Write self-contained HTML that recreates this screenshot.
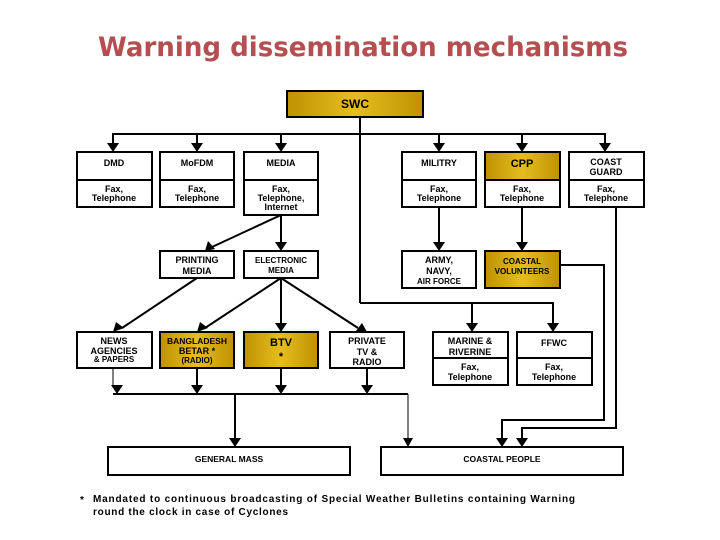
<!DOCTYPE html>
<html><head><meta charset="utf-8"><style>
html,body{margin:0;padding:0;background:#fff;width:720px;height:540px;overflow:hidden}
svg text{font-family:"Liberation Sans",sans-serif;font-weight:bold;fill:#000}
</style></head><body>
<svg width="720" height="540" viewBox="0 0 720 540" xmlns="http://www.w3.org/2000/svg">
<defs>
<linearGradient id="g" x1="0" y1="0" x2="1" y2="0">
<stop offset="0" stop-color="#be9200"/><stop offset="0.5" stop-color="#e6bd20"/><stop offset="1" stop-color="#be9200"/>
</linearGradient>
</defs>
<text x="98" y="56" textLength="530" lengthAdjust="spacingAndGlyphs" style="font-family:'DejaVu Sans',sans-serif;font-size:27px;font-weight:bold;fill:#b44e50">Warning dissemination mechanisms</text>

<g stroke="#000" fill="none" stroke-width="2">
<line x1="360" y1="117" x2="360" y2="303"/>
<polyline points="113,143 113,134 605,134 605,143"/>
<line x1="197" y1="134" x2="197" y2="143"/>
<line x1="281" y1="134" x2="281" y2="143"/>
<line x1="439" y1="134" x2="439" y2="143"/>
<line x1="522" y1="134" x2="522" y2="143"/>
<line x1="281" y1="215" x2="281" y2="242"/>
<line x1="281" y1="215" x2="212" y2="247"/>
<line x1="439" y1="207" x2="439" y2="242"/>
<line x1="522" y1="207" x2="522" y2="242"/>
<line x1="197" y1="278" x2="122" y2="328"/>
<line x1="281" y1="278" x2="205" y2="328"/>
<line x1="281" y1="278" x2="281" y2="323"/>
<line x1="281" y1="278" x2="358" y2="328"/>
<polyline points="360,303 553,303 553,323"/>
<line x1="472" y1="303" x2="472" y2="323"/>
<line x1="113" y1="368" x2="113" y2="385" stroke-width="1"/>
<line x1="197" y1="368" x2="197" y2="385"/>
<line x1="281" y1="368" x2="281" y2="385"/>
<line x1="367" y1="368" x2="367" y2="385"/>
<line x1="113" y1="394" x2="408" y2="394"/>
<line x1="235" y1="394" x2="235" y2="438"/>
<line x1="408" y1="394" x2="408" y2="438" stroke-width="1"/>
<polyline points="560,265 604,265 604,420 502,420 502,438"/>
<polyline points="616,207 616,428 522,428 522,438"/>
</g>
<g fill="#000">
<path d="M107,143 h12 l-6,9 z"/><path d="M191,143 h12 l-6,9 z"/><path d="M275,143 h12 l-6,9 z"/>
<path d="M433,143 h12 l-6,9 z"/><path d="M516,143 h12 l-6,9 z"/><path d="M599,143 h12 l-6,9 z"/>
<path d="M275,242 h12 l-6,9 z"/><path d="M433,242 h12 l-6,9 z"/><path d="M516,242 h12 l-6,9 z"/>
<path d="M205,251 l3,-10 l7,8 z"/>
<path d="M113,332 l3,-10 l8,6 z"/><path d="M197,332 l3,-10 l8,6 z"/><path d="M275,323 h12 l-6,9 z"/><path d="M367,332 l-11,-1 l6,-8 z"/>
<path d="M466,323 h12 l-6,9 z"/><path d="M547,323 h12 l-6,9 z"/>
<path d="M111,385 h12 l-6,9 z"/><path d="M191,385 h12 l-6,9 z"/><path d="M275,385 h12 l-6,9 z"/><path d="M361,385 h12 l-6,9 z"/>
<path d="M229,438 h12 l-6,9 z"/><path d="M403,438 h10 l-5,9 z"/><path d="M496,438 h12 l-6,9 z"/><path d="M516,438 h12 l-6,9 z"/>
</g>
<g stroke="#000" stroke-width="2">
<rect x="287" y="91" width="136" height="26" fill="url(#g)"/>
<rect x="77" y="152" width="75" height="55" fill="#fff"/>
<rect x="160" y="152" width="74" height="55" fill="#fff"/>
<rect x="244" y="152" width="74" height="63" fill="#fff"/>
<rect x="402" y="152" width="74" height="55" fill="#fff"/>
<rect x="485" y="152" width="75" height="28" fill="url(#g)"/>
<rect x="485" y="180" width="75" height="27" fill="#fff"/>
<rect x="569" y="152" width="75" height="55" fill="#fff"/>
<line x1="77" y1="180" x2="152" y2="180"/><line x1="160" y1="180" x2="234" y2="180"/><line x1="244" y1="180" x2="318" y2="180"/>
<line x1="402" y1="180" x2="476" y2="180"/><line x1="569" y1="180" x2="644" y2="180"/>
<rect x="160" y="251" width="74" height="27" fill="#fff"/>
<rect x="244" y="251" width="74" height="27" fill="#fff"/>
<rect x="402" y="251" width="74" height="37" fill="#fff"/>
<rect x="485" y="251" width="75" height="37" fill="url(#g)"/>
<rect x="77" y="332" width="75" height="36" fill="#fff"/>
<rect x="160" y="332" width="74" height="36" fill="url(#g)"/>
<rect x="244" y="332" width="74" height="36" fill="url(#g)"/>
<rect x="330" y="332" width="74" height="36" fill="#fff"/>
<rect x="433" y="332" width="75" height="53" fill="#fff"/>
<rect x="517" y="332" width="75" height="53" fill="#fff"/>
<line x1="433" y1="358" x2="508" y2="358"/><line x1="517" y1="358" x2="592" y2="358"/>
<rect x="108" y="447" width="242" height="28" fill="#fff"/>
<rect x="381" y="447" width="242" height="28" fill="#fff"/>
</g>
<g text-anchor="middle" font-size="9">
<text x="355" y="108" font-size="12">SWC</text>
<text x="114" y="166">DMD</text><text x="197" y="166">MoFDM</text><text x="281" y="166">MEDIA</text>
<text x="439" y="166">MILITRY</text><text x="522" y="167" font-size="11" font-weight="normal">CPP</text>
<text x="606" y="165">COAST</text><text x="606" y="175">GUARD</text>
<text x="114" y="192">Fax,</text><text x="114" y="201">Telephone</text>
<text x="197" y="192">Fax,</text><text x="197" y="201">Telephone</text>
<text x="281" y="192">Fax,</text><text x="281" y="201">Telephone,</text><text x="281" y="210">Internet</text>
<text x="439" y="192">Fax,</text><text x="439" y="201">Telephone</text>
<text x="522" y="192">Fax,</text><text x="522" y="201">Telephone</text>
<text x="606" y="192">Fax,</text><text x="606" y="201">Telephone</text>
<text x="197" y="263">PRINTING</text><text x="197" y="274">MEDIA</text>
<text x="281" y="263" font-size="8">ELECTRONIC</text><text x="281" y="273" font-size="8">MEDIA</text>
<text x="439" y="263">ARMY,</text><text x="439" y="274">NAVY,</text><text x="439" y="284" font-size="8">AIR FORCE</text>
<text x="522" y="264" font-size="8">COASTAL</text><text x="522" y="274" font-size="8">VOLUNTEERS</text>
<text x="114" y="344">NEWS</text><text x="114" y="354">AGENCIES</text><text x="114" y="362" font-size="8">&amp; PAPERS</text>
<text x="197" y="344" font-size="8.5">BANGLADESH</text><text x="197" y="354">BETAR *</text><text x="197" y="363" font-size="8">(RADIO)</text>
<text x="281" y="346" font-size="11">BTV</text><text x="281" y="360" font-size="11">*</text>
<text x="367" y="344">PRIVATE</text><text x="367" y="355">TV &amp;</text><text x="367" y="365">RADIO</text>
<text x="470" y="344">MARINE &amp;</text><text x="470" y="355">RIVERINE</text>
<text x="554" y="346">FFWC</text>
<text x="470" y="370" font-weight="normal">Fax,</text><text x="470" y="380" font-weight="normal">Telephone</text>
<text x="554" y="370" font-weight="normal">Fax,</text><text x="554" y="380" font-weight="normal">Telephone</text>
<text x="229" y="462" font-size="8.5">GENERAL MASS</text>
<text x="502" y="462" font-size="8.5">COASTAL PEOPLE</text>
</g>
<text x="80" y="503" font-size="10">*</text>
<text x="93" y="502" font-size="10" textLength="482" lengthAdjust="spacing">Mandated to continuous broadcasting of Special Weather Bulletins containing Warning</text>
<text x="93" y="515" font-size="10" textLength="195" lengthAdjust="spacing">round the clock in case of Cyclones</text>
</svg>
</body></html>
